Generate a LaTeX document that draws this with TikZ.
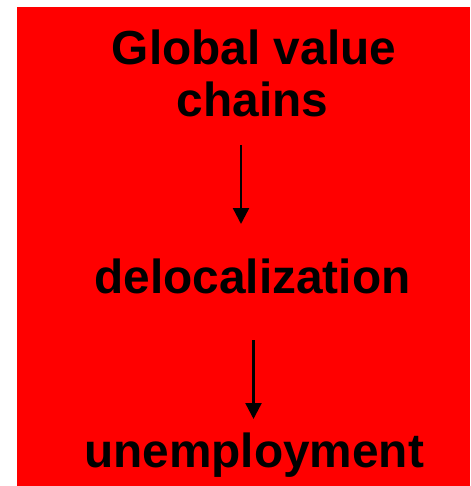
\documentclass[tikz,border=0pt]{standalone}
\usepackage{fontspec}
\setmainfont{Liberation Sans}
\usetikzlibrary{arrows.meta}
\begin{document}
\begin{tikzpicture}[x=1pt,y=-1pt,
  lbl/.style={anchor=base,inner sep=0pt,font=\fontsize{47.8}{52}\selectfont\bfseries,text=black},
  arr/.style={line width=2.4pt,-{Triangle[width=16pt,length=16pt]}}]
\useasboundingbox (0,0) rectangle (470,486);
\fill[red] (17,7) rectangle (470,486);
\node[lbl] (gvc1) at (254,65) {Global value};
\node[lbl] (gvc2) at (252.5,117) {chains};
\node[lbl] (deloc) at (252.5,293) {delocalization};
\node[lbl] (unemp) at (254,467) {unemployment};
\coordinate (a1s) at (241,145);
\coordinate (a1e) at (241,224);
\coordinate (a2s) at (253.5,340);
\coordinate (a2e) at (253.5,419);
\draw[arr] (a1s) -- (a1e);
\draw[arr] (a2s) -- (a2e);
\end{tikzpicture}
\end{document}
